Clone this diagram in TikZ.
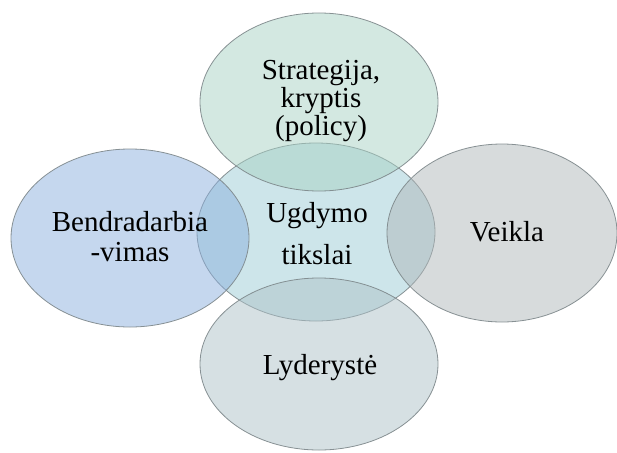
\documentclass[tikz,border=0pt]{standalone}
\usepackage{fontspec}
\setmainfont{Liberation Serif}
\usetikzlibrary{shapes.geometric}
\definecolor{ctop}{RGB}{167,209,195}
\definecolor{cleft}{RGB}{139,175,221}
\definecolor{cright}{RGB}{175,183,185}
\definecolor{cbot}{RGB}{173,193,199}
\definecolor{ccen}{RGB}{155,203,213}
\definecolor{edge}{RGB}{125,135,138}
\tikzset{
  blob/.style={ellipse, draw=edge, line width=0.8pt, fill opacity=0.5, draw opacity=0.9,
    minimum width=238pt, minimum height=178pt, inner sep=0pt},
  lbl/.style={align=center, font=\fontsize{29}{29}\selectfont, text=black, inner sep=0pt}
}
\begin{document}
\begin{tikzpicture}[x=1pt,y=-1pt]
\useasboundingbox (0,0) rectangle (617,452);
\node[blob, fill=ccen] (cen) at (316,232) {};
\node[blob, fill=ctop] (top) at (319,102) {};
\node[blob, fill=cleft] (left) at (130,238) {};
\node[blob, fill=cright, minimum width=230pt] (right) at (502,233) {};
\node[blob, fill=cbot, minimum height=172pt] (bot) at (319,364) {};
\node[lbl, font=\fontsize{29}{28}\selectfont] (ttop) at (321,101) {Strategija,\\kryptis\\(policy)};
\node[lbl, font=\fontsize{29}{30}\selectfont] (tleft) at (130,237) {Bendradarbia\\-vimas};
\node[lbl, font=\fontsize{29}{42}\selectfont] (tcen) at (317,234) {Ugdymo\\tikslai};
\node[lbl] (tright) at (507,232) {Veikla};
\node[lbl] (tbot) at (320,368) {Lyderystė};
\end{tikzpicture}
\end{document}
